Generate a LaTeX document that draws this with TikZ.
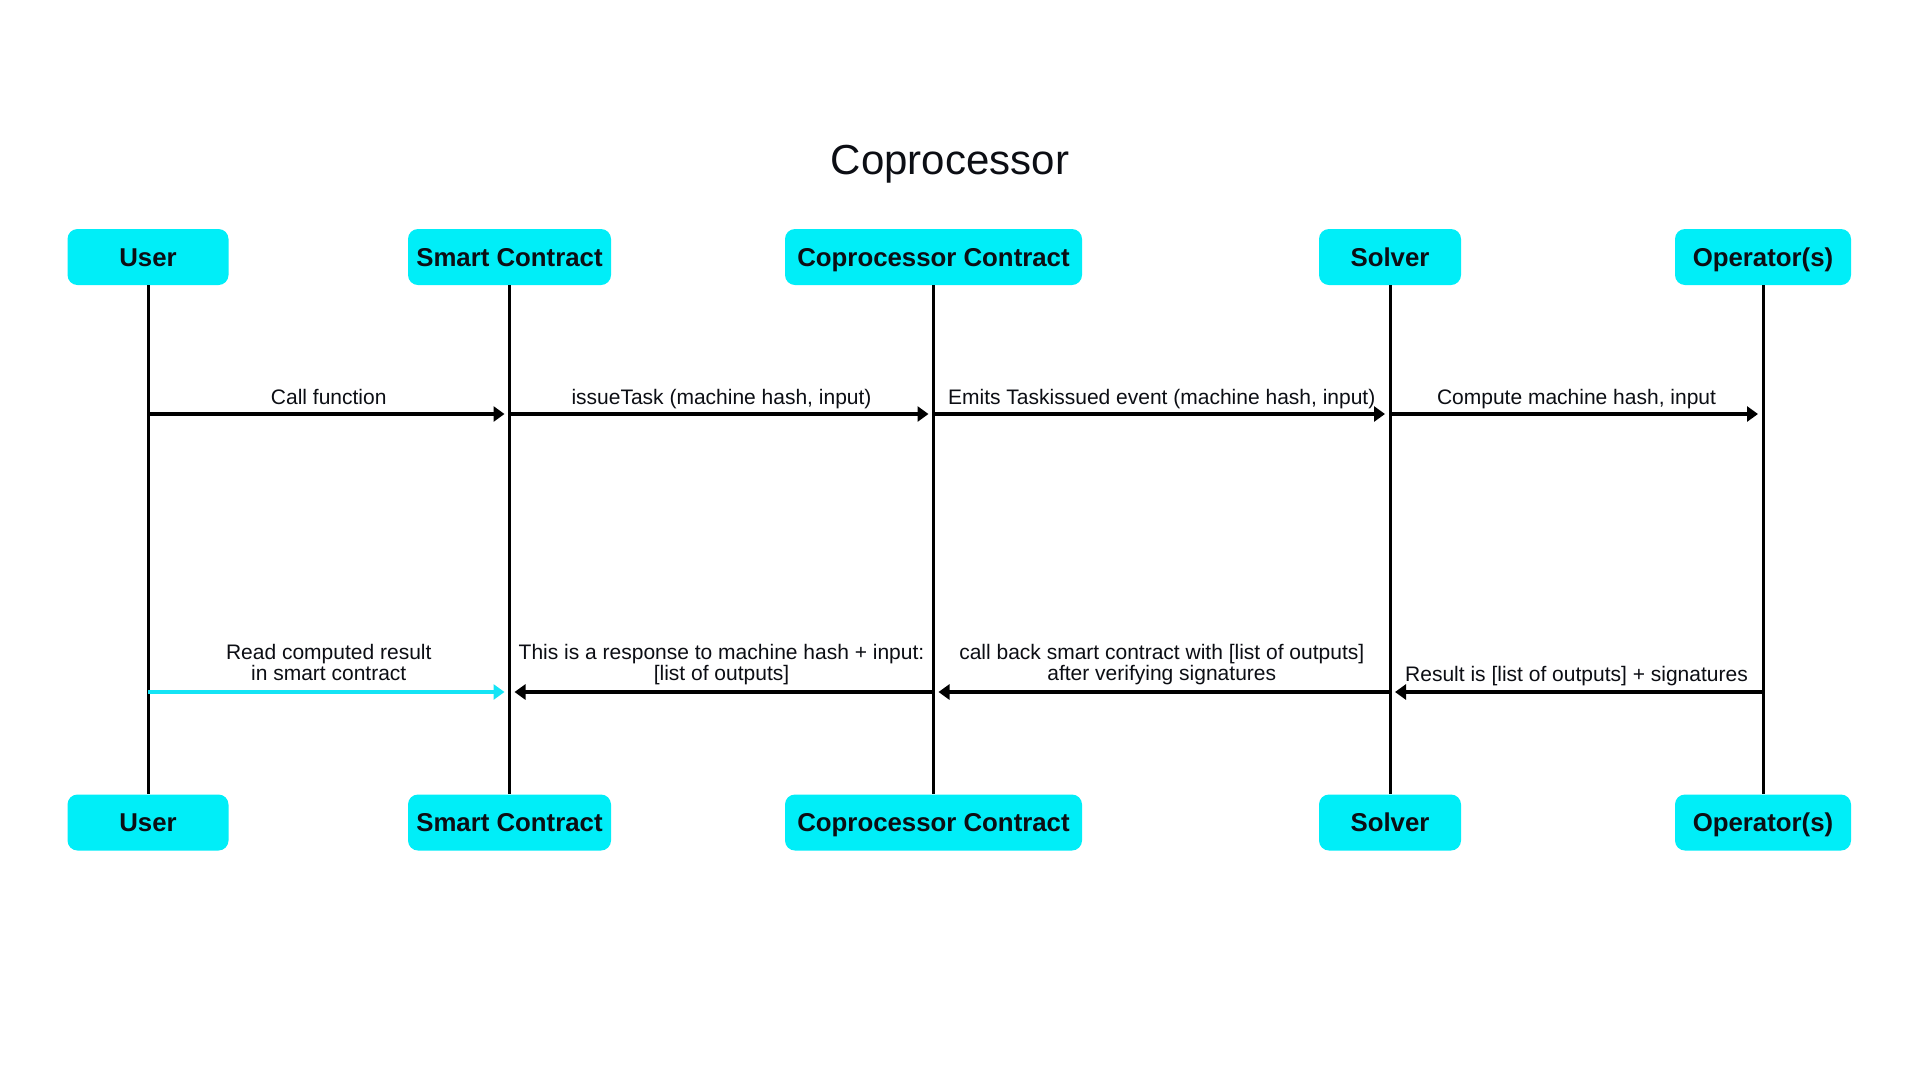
\documentclass[tikz,border=0pt]{standalone}
\usepackage{fontspec}
\setmainfont{Liberation Sans}
\usetikzlibrary{arrows.meta,calc}
\definecolor{boxcyan}{RGB}{0,238,248}
\definecolor{arrcyan}{RGB}{20,228,245}
\definecolor{txtdark}{RGB}{12,14,20}
\begin{document}
\begin{tikzpicture}[x=1pt,y=-1pt,
  actor/.style={fill=boxcyan, rounded corners=10pt, minimum height=56pt, inner sep=0pt,
    text height=18.6pt, text depth=0pt, font=\fontsize{25.8}{30}\selectfont\bfseries, text=txtdark},
  life/.style={line width=3pt, black},
  msg/.style={line width=3.5pt, -{Triangle[length=11pt,width=15pt]}, shorten >=5pt},
  lbl/.style={font=\fontsize{21}{19}\selectfont, align=center, inner sep=0pt, anchor=base, text=txtdark}]
\useasboundingbox (0,0) rectangle (1920,1080);
\fill[white] (0,0) rectangle (1920,1080);
\node[anchor=base, font=\fontsize{42}{50}\selectfont, text=txtdark] (title) at (950,174) {Coprocessor};
% top actors
\node[actor, minimum width=161pt] (u1) at (148,257) {User};
\node[actor, minimum width=203pt] (s1) at (509.5,257) {Smart Contract};
\node[actor, minimum width=297pt] (c1) at (933.5,257) {Coprocessor Contract};
\node[actor, minimum width=142pt] (v1) at (1390,257) {Solver};
\node[actor, minimum width=176pt] (o1) at (1763,257) {Operator(s)};
% bottom actors
\node[actor, minimum width=161pt] (u2) at (148,822.5) {User};
\node[actor, minimum width=203pt] (s2) at (509.5,822.5) {Smart Contract};
\node[actor, minimum width=297pt] (c2) at (933.5,822.5) {Coprocessor Contract};
\node[actor, minimum width=142pt] (v2) at (1390,822.5) {Solver};
\node[actor, minimum width=176pt] (o2) at (1763,822.5) {Operator(s)};
% lifelines
\foreach \a/\b in {u1/u2,s1/s2,c1/c2,v1/v2,o1/o2}
  \draw[life] (\a.south) -- (\b.north);
\coordinate (r1) at (0,414);
\coordinate (r2) at (0,692);
% row 1
\draw[msg] (u1 |- r1) -- (s1 |- r1);
\draw[msg] (s1 |- r1) -- (c1 |- r1);
\draw[msg] (c1 |- r1) -- (v1 |- r1);
\draw[msg] (v1 |- r1) -- (o1 |- r1);
\node[lbl] (m1) at ($(u1 |- 0,404)!.5!(s1 |- 0,404)$) {Call function};
\node[lbl] (m2) at ($(s1 |- 0,404)!.5!(c1 |- 0,404)$) {issueTask (machine hash, input)};
\node[lbl] (m3) at ($(c1 |- 0,404)!.5!(v1 |- 0,404)$) {Emits Taskissued event (machine hash, input)};
\node[lbl] (m4) at ($(v1 |- 0,404)!.5!(o1 |- 0,404)$) {Compute machine hash, input};
% row 2
\draw[msg, arrcyan] (u1 |- r2) -- (s1 |- r2);
\draw[msg] (c1 |- r2) -- (s1 |- r2);
\draw[msg] (v1 |- r2) -- (c1 |- r2);
\draw[msg] (o1 |- r2) -- (v1 |- r2);
\node[lbl] (n1) at ($(u1 |- 0,680)!.5!(s1 |- 0,680)$) {Read computed result\\in smart contract};
\node[lbl] (n2) at ($(s1 |- 0,680)!.5!(c1 |- 0,680)$) {This is a response to machine hash + input:\\{}[list of outputs]};
\node[lbl] (n3) at ($(c1 |- 0,680)!.5!(v1 |- 0,680)$) {call back smart contract with [list of outputs]\\after verifying signatures};
\node[lbl] (n4) at ($(v1 |- 0,681)!.5!(o1 |- 0,681)$) {Result is [list of outputs] + signatures};
\end{tikzpicture}
\end{document}
